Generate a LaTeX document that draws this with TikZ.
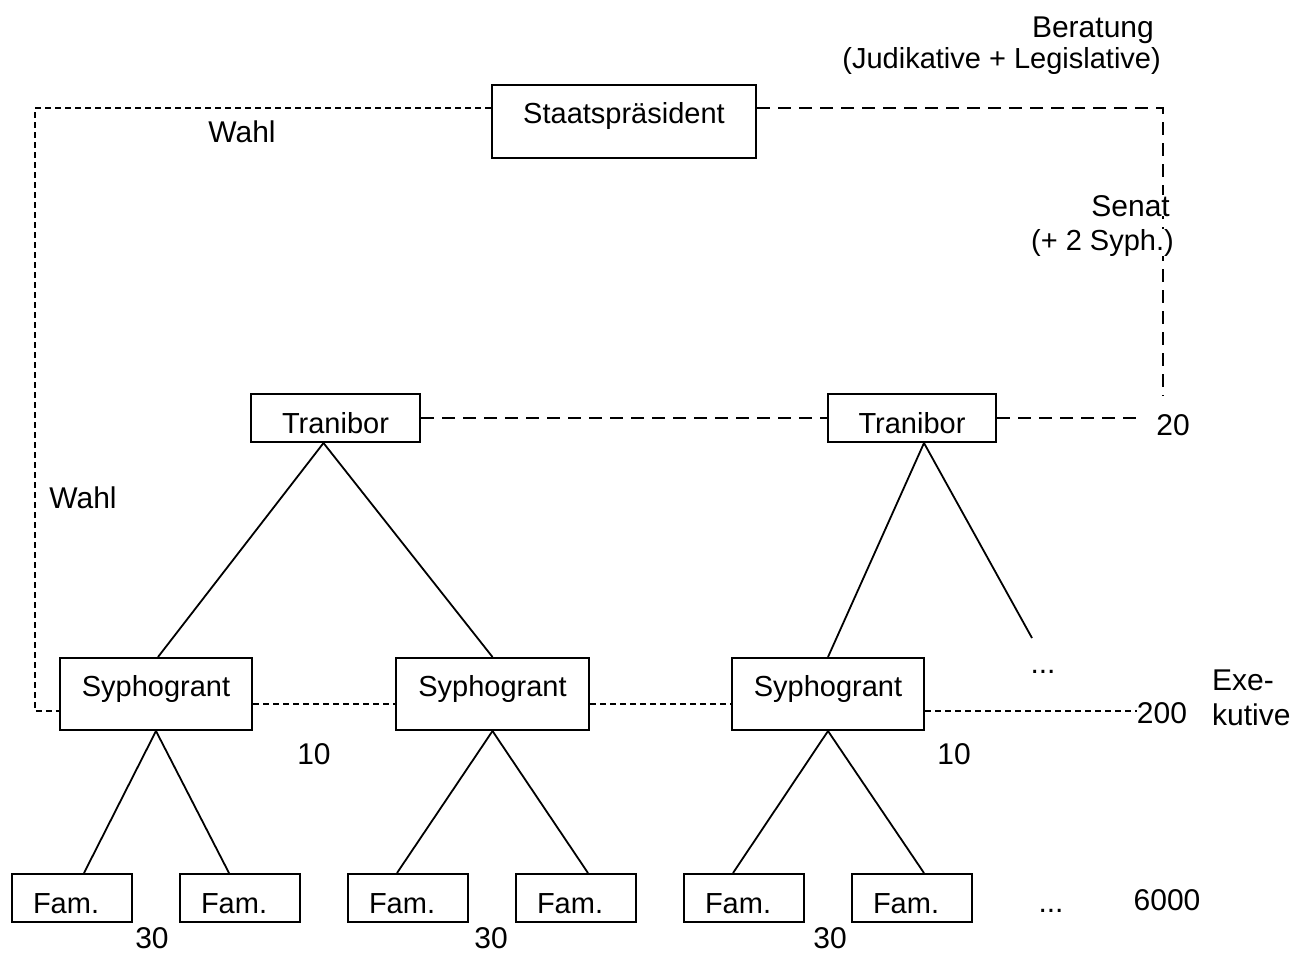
\documentclass[tikz,border=0pt]{standalone}
\usepackage{fontspec}
\setmainfont{Liberation Sans}
\usetikzlibrary{calc}
\begin{document}
\begin{tikzpicture}[x=1pt,y=-1pt,
  every node/.style={font=\fontsize{29}{35}\selectfont, inner sep=0pt},
  box/.style={draw, line width=2pt, anchor=north west, inner sep=0pt},
  bigbox/.style={box, text height=38pt, text depth=35pt},
  tribox/.style={box, text height=39pt, text depth=9pt},
  fambox/.style={box, text height=39pt, text depth=9pt, inner xsep=21pt, text width=78pt, align=left},
  conn/.style={line width=1.8pt},
  shortdash/.style={line width=1.7pt, dash pattern=on 6pt off 4pt},
  longdash/.style={line width=1.7pt, dash pattern=on 13pt off 8pt},
  lbl/.style={anchor=base, font=\fontsize{30}{36}\selectfont}
]
\useasboundingbox (0,0) rectangle (1312,954);

% boxes
\node[bigbox, minimum width=264pt] (sp) at (491,84) {Staatspräsident};
\node[tribox, minimum width=169pt] (t1) at (250,393) {Tranibor};
\node[tribox, minimum width=168pt] (t2) at (827,393) {Tranibor};
\node[bigbox, minimum width=192pt, text depth=34pt] (s1) at (59,657) {Syphogrant};
\node[bigbox, minimum width=193pt, text depth=34pt] (s2) at (395,657) {Syphogrant};
\node[bigbox, minimum width=192pt, text depth=34pt] (s3) at (731,657) {Syphogrant};
\node[fambox] (f1) at (11,873) {Fam.};
\node[fambox] (f2) at (179,873) {Fam.};
\node[fambox] (f3) at (347,873) {Fam.};
\node[fambox] (f4) at (515,873) {Fam.};
\node[fambox] (f5) at (683,873) {Fam.};
\node[fambox] (f6) at (851,873) {Fam.};

% free ends
\coordinate (senEnd) at (1163,396);
\coordinate (triEnd) at (1140,418);
\coordinate (syEnd) at (1137,711);
\coordinate (dotsEnd) at (1032,638);

% dashed relations
\draw[shortdash] (sp.west |- 0,108) -- (35,108) -- (35,711) -- (s1.west |- 0,711);
\draw[longdash] (sp.east |- 0,108) -- (1163,108) -- (senEnd);
\draw[longdash] (t1.east |- 0,418) -- (t2.west |- 0,418);
\draw[longdash] (t2.east |- 0,418) -- (triEnd);
\draw[shortdash] (s1.east |- 0,704) -- (s2.west |- 0,704);
\draw[shortdash] (s2.east |- 0,704) -- (s3.west |- 0,704);
\draw[shortdash] (s3.east |- 0,711) -- (syEnd);

% tree connectors
\draw[conn] ([xshift=-12pt]t1.south) -- ([xshift=2pt]s1.north);
\draw[conn] ([xshift=-12pt]t1.south) -- (s2.north);
\draw[conn] ([xshift=12pt]t2.south) -- (s3.north);
\draw[conn] ([xshift=12pt]t2.south) -- (dotsEnd);
\draw[conn] (s1.south) -- ([xshift=12pt]f1.north);
\draw[conn] (s1.south) -- ([xshift=-11pt]f2.north);
\draw[conn] (s2.south) -- ([xshift=-11pt]f3.north);
\draw[conn] (s2.south) -- ([xshift=12pt]f4.north);
\draw[conn] (s3.south) -- ([xshift=-11pt]f5.north);
\draw[conn] (s3.south) -- ([xshift=12pt]f6.north);

% labels
\node[lbl] (wahl1) at (242,142) {Wahl};
\node[lbl] (wahl2) at (83,508) {Wahl};
\node[anchor=base east, font=\fontsize{30}{36}\selectfont] (ber) at (1154,37) {Beratung};
\node[anchor=base east] (berx) at (1161,68) {(Judikative + Legislative)};
\node[anchor=base east, fill=white, font=\fontsize{30}{36}\selectfont] (sen) at (1170,216) {Senat};
\node[anchor=base east, fill=white] (senx) at (1174,250) {(+ 2 Syph.)};
\node[lbl] (n20) at (1173,435) {20};
\node[lbl] (dots1) at (1043,673) {...};
\node[lbl] (n200) at (1162,723) {200};
\node[anchor=base west, font=\fontsize{30}{36}\selectfont] (exe1) at (1212,690) {Exe-};
\node[anchor=base west, font=\fontsize{30}{36}\selectfont] (exe2) at (1212,725) {kutive};
\node[lbl] (n10a) at (314,764) {10};
\node[lbl] (n10b) at (954,764) {10};
\node[lbl] (n30a) at (152,948) {30};
\node[lbl] (n30b) at (491,948) {30};
\node[lbl] (n30c) at (830,948) {30};
\node[lbl] (dots2) at (1051,912) {...};
\node[lbl] (n6000) at (1167,910) {6000};
\end{tikzpicture}
\end{document}
